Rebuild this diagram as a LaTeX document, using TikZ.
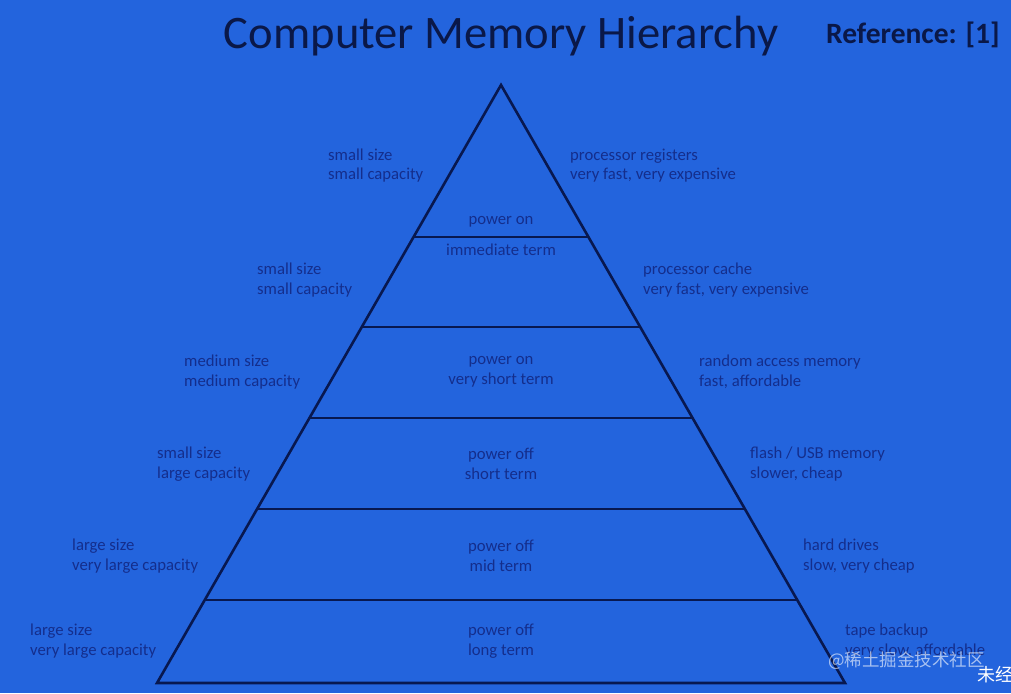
\documentclass[tikz,border=0pt]{standalone}
\usepackage{fontspec}
\setmainfont{Carlito}
\newfontfamily\cjk{Noto Sans CJK SC}
\begin{document}
\begin{tikzpicture}[x=1pt,y=-1pt,
  lbl/.style={font=\fontsize{16.7}{19.8}\selectfont, text=txtc, align=left, anchor=west, inner sep=0pt},
  ctr/.style={font=\fontsize{16.7}{19.8}\selectfont, text=txtc, align=center, anchor=center, inner sep=0pt},
  edge/.style={draw=linec, line width=2.6pt, line join=miter}]
\definecolor{bgc}{RGB}{35,100,221}
\definecolor{linec}{RGB}{8,24,80}
\definecolor{txtc}{RGB}{20,46,140}
\definecolor{titc}{RGB}{10,24,72}
\fill[bgc] (0,0) rectangle (1011,693);
\useasboundingbox (0,0) rectangle (1011,693);
% pyramid
\coordinate (apex) at (501,85);
\coordinate (bl) at (157,683);
\coordinate (br) at (845,683);
\foreach \y/\n in {237/a,327/b,418/c,509/d,600/e}{
  \coordinate (L\n) at ({501-0.57525*(\y-85)},\y);
  \coordinate (R\n) at ({501+0.57525*(\y-85)},\y);
}
\draw[edge] (apex) -- (br) -- (bl) -- cycle;
\foreach \n in {a,b,c,d,e}{\draw[edge] (L\n) -- (R\n);}
% title
\node[font=\fontsize{46.6}{50}\selectfont, text=titc, anchor=center, inner sep=0pt] (title) at (501,36) {Computer Memory Hierarchy};
\node[font=\fontsize{29.5}{32}\selectfont\bfseries, text=titc, anchor=east, inner sep=0pt] (ref) at (1000,35) {Reference: [1]};
% left labels
\node[lbl] (l1) at (328,165.5) {small size\\small capacity};
\node[lbl] (l2) at (257,280) {small size\\small capacity};
\node[lbl] (l3) at (184,372) {medium size\\medium capacity};
\node[lbl] (l4) at (157,464) {small size\\large capacity};
\node[lbl] (l5) at (72,556) {large size\\very large capacity};
\node[lbl] (l6) at (30,641) {large size\\very large capacity};
% right labels
\node[lbl] (r1) at (570,165.5) {processor registers\\very fast, very expensive};
\node[lbl] (r2) at (643,280) {processor cache\\very fast, very expensive};
\node[lbl] (r3) at (699,372) {random access memory\\fast, affordable};
\node[lbl] (r4) at (750,464) {flash / USB memory\\slower, cheap};
\node[lbl] (r5) at (803,556) {hard drives\\slow, very cheap};
\node[lbl] (r6) at (845,641) {tape backup\\very slow, affordable};
% centre labels
\node[ctr] (c1) at (501,222) {power on};
\node[ctr] (c2) at (501,250) {immediate term};
\node[ctr] (c3) at (501,372) {power on\\very short term};
\node[ctr] (c4) at (501,464) {power off\\short term};
\node[ctr] (c5) at (501,556) {power off\\mid term};
\node[ctr] (c6) at (501,641) {power off\\long term};
% watermark
\node[font=\cjk\fontsize{17.5}{20}\selectfont, text=white, opacity=0.6, anchor=west, inner sep=0pt] (wm) at (828,661) {@稀土掘金技术社区};
\node[font=\cjk\fontsize{18}{20}\selectfont, text=white, anchor=west, inner sep=0pt] (wm2) at (977,675) {未经};
\end{tikzpicture}
\end{document}
